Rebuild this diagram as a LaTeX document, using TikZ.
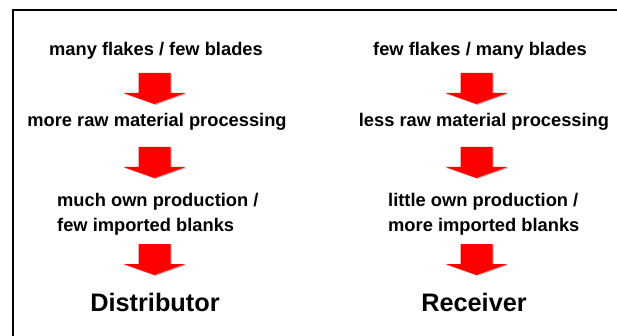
\documentclass[tikz,border=0pt]{standalone}
\usepackage{fontspec}
\setmainfont{Liberation Sans}
\begin{document}
\begin{tikzpicture}[x=1pt,y=-1pt,
  txt/.style={font=\bfseries\fontsize{18.3}{25}\selectfont, inner sep=0pt, text=black},
  big/.style={font=\bfseries\fontsize{25.3}{30}\selectfont, inner sep=0pt, text=black},
  frameline/.style={line width=1.5pt, black}]
\useasboundingbox (0,0) rectangle (617,336);
\fill[white] (0,0) rectangle (617,336);
\draw[frameline] (13,336) -- (13,10) -- (617,10);
% block arrow: #1 = centre x, #2 = top y
\newcommand\redarrow[2]{%
  \fill[gray!55] (#1-15,#2+1) -- (#1+17,#2+1) -- (#1+17,#2+21) -- (#1+32,#2+21)
     -- (#1+1,#2+32) -- (#1-30,#2+21) -- (#1-15,#2+21) -- cycle;
  \fill[red] (#1-16,#2) -- (#1+16,#2) -- (#1+16,#2+20) -- (#1+31,#2+20)
     -- (#1,#2+31) -- (#1-31,#2+20) -- (#1-16,#2+20) -- cycle;}
% left column
\node[txt, anchor=base] (l1) at (156,56) {many flakes / few blades};
\node[txt, anchor=base] (l2) at (157,127) {more raw material processing};
\node[txt, anchor=base west, align=left] (l3) at (57,232) {much own production /\\few imported blanks};
\node[big, anchor=base] (l4) at (155,311) {Distributor};
% right column
\node[txt, anchor=base] (r1) at (480,56) {few flakes / many blades};
\node[txt, anchor=base] (r2) at (484,127) {less raw material processing};
\node[txt, anchor=base west, align=left] (r3) at (388,232) {little own production /\\more imported blanks};
\node[big, anchor=base] (r4) at (474,311) {Receiver};
% arrows
\redarrow{154.5}{73}
\redarrow{154.5}{147}
\redarrow{154.5}{244}
\redarrow{476.5}{73}
\redarrow{476.5}{147}
\redarrow{476.5}{244}
\end{tikzpicture}
\end{document}
